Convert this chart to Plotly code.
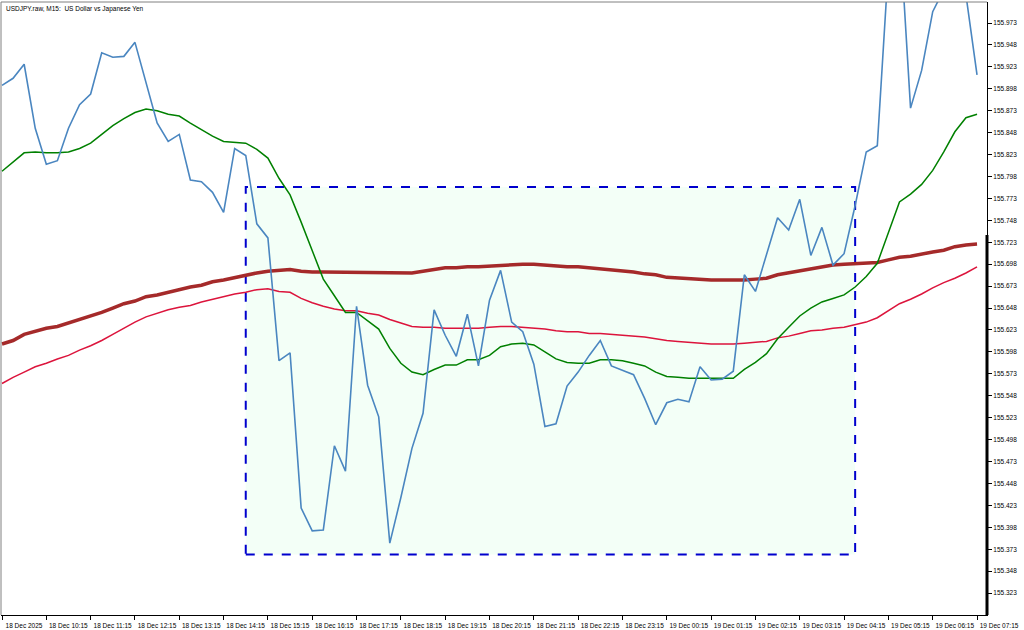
import plotly.graph_objects as go

# ---------------- data (M15 bars, 18 Dec 09:15 -> 19 Dec 07:15) ----------------
bar_index = list(range(89))

close_price = [
    155.902, 155.910, 155.926, 155.853, 155.812, 155.816, 155.853, 155.880, 155.892, 155.939,
    155.934, 155.935, 155.951, 155.906, 155.859, 155.838, 155.846, 155.794, 155.792, 155.780,
    155.757, 155.830, 155.822, 155.744, 155.728, 155.588, 155.597, 155.420, 155.394, 155.395,
    155.491, 155.462, 155.650, 155.560, 155.524, 155.380, 155.432, 155.488, 155.528, 155.646,
    155.617, 155.593, 155.641, 155.582, 155.657, 155.691, 155.632, 155.621, 155.584, 155.513,
    155.516, 155.559, 155.575, 155.594, 155.611, 155.582, 155.577, 155.572, 155.545, 155.515,
    155.540, 155.544, 155.541, 155.581, 155.566, 155.567, 155.576, 155.686, 155.667, 155.710,
    155.751, 155.737, 155.772, 155.708, 155.740, 155.697, 155.710, 155.765, 155.826, 155.833,
    156.038, 156.084, 155.876, 155.919, 155.986, 156.011, 156.045, 156.005, 155.914,
]

ma_fast = [
    155.804, 155.815, 155.825, 155.826, 155.825, 155.825, 155.826, 155.830, 155.836, 155.846,
    155.856, 155.864, 155.871, 155.875, 155.873, 155.869, 155.867, 155.859, 155.851, 155.844,
    155.838, 155.837, 155.836, 155.829, 155.819, 155.796, 155.777, 155.746, 155.714, 155.681,
    155.662, 155.643, 155.643, 155.634, 155.624, 155.602, 155.585, 155.575, 155.572, 155.578,
    155.583, 155.583, 155.589, 155.589, 155.594, 155.604, 155.607, 155.608, 155.606, 155.598,
    155.590, 155.586, 155.585, 155.585, 155.589, 155.589, 155.588, 155.585, 155.582, 155.575,
    155.570, 155.569, 155.568, 155.568, 155.568, 155.568, 155.568, 155.578, 155.586, 155.596,
    155.613, 155.626, 155.639, 155.648, 155.655, 155.659, 155.663, 155.672, 155.684, 155.699,
    155.734, 155.769, 155.778, 155.789, 155.805, 155.826, 155.849, 155.865, 155.869,
]

ma_mid = [
    155.562, 155.569, 155.575, 155.581, 155.585, 155.590, 155.594, 155.600, 155.605, 155.611,
    155.618, 155.625, 155.632, 155.638, 155.642, 155.646, 155.649, 155.651, 155.655, 155.658,
    155.661, 155.664, 155.666, 155.669, 155.670, 155.667, 155.666, 155.659, 155.654, 155.650,
    155.647, 155.645, 155.645, 155.642, 155.640, 155.635, 155.631, 155.627, 155.626, 155.626,
    155.625, 155.625, 155.625, 155.625, 155.626, 155.627, 155.627, 155.626, 155.625, 155.624,
    155.622, 155.621, 155.621, 155.619, 155.619, 155.618, 155.617, 155.616, 155.615, 155.613,
    155.611, 155.610, 155.609, 155.608, 155.607, 155.607, 155.607, 155.608, 155.609, 155.610,
    155.614, 155.616, 155.619, 155.622, 155.623, 155.625, 155.626, 155.629, 155.632, 155.637,
    155.645, 155.653, 155.658, 155.664, 155.671, 155.677, 155.682, 155.688, 155.695,
]

ma_slow = [
    155.607, 155.611, 155.618, 155.622, 155.625, 155.627, 155.631, 155.634, 155.638, 155.643,
    155.648, 155.653, 155.656, 155.661, 155.663, 155.666, 155.670, 155.672, 155.674, 155.678,
    155.680, 155.683, 155.686, 155.688, 155.690, 155.691, 155.692, 155.690, 155.689, 155.689,
    155.689, 155.689, 155.689, 155.689, 155.689, 155.689, 155.688, 155.688, 155.690, 155.692,
    155.694, 155.694, 155.695, 155.695, 155.696, 155.696, 155.697, 155.698, 155.698, 155.697,
    155.696, 155.695, 155.695, 155.694, 155.692, 155.691, 155.690, 155.689, 155.687, 155.686,
    155.683, 155.682, 155.681, 155.680, 155.680, 155.680, 155.680, 155.680, 155.681, 155.682,
    155.686, 155.688, 155.690, 155.692, 155.695, 155.697, 155.698, 155.699, 155.699, 155.700,
    155.703, 155.706, 155.707, 155.710, 155.712, 155.714, 155.718, 155.720, 155.721,
]

# x-axis labels (every 4 bars = 1 hour)
x_tick_index = list(range(0, 89, 4))
x_tick_text = [
    "18 Dec 2025", "18 Dec 10:15", "18 Dec 11:15", "18 Dec 12:15", "18 Dec 13:15",
    "18 Dec 14:15", "18 Dec 15:15", "18 Dec 16:15", "18 Dec 17:15", "18 Dec 18:15",
    "18 Dec 19:15", "18 Dec 20:15", "18 Dec 21:15", "18 Dec 22:15", "18 Dec 23:15",
    "19 Dec 00:15", "19 Dec 01:15", "19 Dec 02:15", "19 Dec 03:15", "19 Dec 04:15",
    "19 Dec 05:15", "19 Dec 06:15", "19 Dec 07:15",
]

# y-axis price levels
y_tick_values = [round(155.323 + 0.025 * k, 3) for k in range(27)]

# consolidation box
rect_x0, rect_x1 = 22, 77
rect_top, rect_bottom = 155.786, 155.367

title_text = "USDJPY.raw, M15:  US Dollar vs Japanese Yen"

# ---------------- figure ----------------
FONT = "Liberation Sans, Arial, sans-serif"
fig = go.Figure()

fig.add_shape(type="rect", xref="x", yref="y",
              x0=rect_x0, x1=rect_x1, y0=rect_bottom, y1=rect_top,
              fillcolor="#F3FFF7", line=dict(color="#0000CD", width=2, dash="dash"),
              layer="below")

fig.add_trace(go.Scatter(x=bar_index, y=ma_slow, mode="lines",
                         line=dict(color="#A52A2A", width=3.5), hoverinfo="skip"))
fig.add_trace(go.Scatter(x=bar_index, y=ma_mid, mode="lines",
                         line=dict(color="#DC143C", width=1.5), hoverinfo="skip"))
fig.add_trace(go.Scatter(x=bar_index, y=ma_fast, mode="lines",
                         line=dict(color="#008000", width=1.5), hoverinfo="skip"))
fig.add_trace(go.Scatter(x=bar_index, y=close_price, mode="lines",
                         line=dict(color="#4A86C0", width=1.6), hoverinfo="skip"))

fig.update_layout(
    width=1024, height=630,
    margin=dict(l=1, r=37, t=2, b=15),
    paper_bgcolor="white", plot_bgcolor="white",
    showlegend=False,
    font=dict(family=FONT, size=6.5, color="#000000"),
    xaxis=dict(
        range=[-0.09, 88.9], showgrid=False, zeroline=False,
        tickmode="array", tickvals=x_tick_index, ticktext=x_tick_text,
        ticks="outside", ticklen=4, tickcolor="#000000", tickwidth=1,
        ticklabelshift=22, ticklabelstandoff=0,
        tickfont=dict(family=FONT, size=6.5, color="#000000"),
        showline=True, linecolor="#000000", linewidth=1, mirror=False,
    ),
    yaxis=dict(
        range=[155.298, 155.997], side="right", showgrid=False, zeroline=False,
        tickmode="array", tickvals=y_tick_values, tickformat=".3f",
        ticks="outside", ticklen=4, tickcolor="#000000", tickwidth=1,
        tickfont=dict(family=FONT, size=6.5, color="#000000"),
        showline=True, linecolor="#000000", linewidth=1, mirror=False,
    ),
)

# gray frame on the left/top
fig.add_shape(type="line", xref="paper", yref="paper", x0=0, x1=0, y0=0, y1=1,
              line=dict(color="#808080", width=1))
fig.add_shape(type="line", xref="paper", yref="paper", x0=0, x1=1, y0=1, y1=1,
              line=dict(color="#808080", width=1))
# thick scale marker on the right axis
fig.add_shape(type="line", xref="paper", yref="paper", x0=1, x1=1, y0=0, y1=0.62,
              line=dict(color="#000000", width=3))

fig.add_annotation(text=title_text, xref="paper", yref="paper", x=0, y=1,
                   xanchor="left", yanchor="top", xshift=3, yshift=-1, showarrow=False,
                   font=dict(family=FONT, size=6.5, color="#000000"))

fig.write_html("out.html", config={"displayModeBar": False},
               post_script="document.body.style.margin='0';document.body.style.overflow='hidden';")
